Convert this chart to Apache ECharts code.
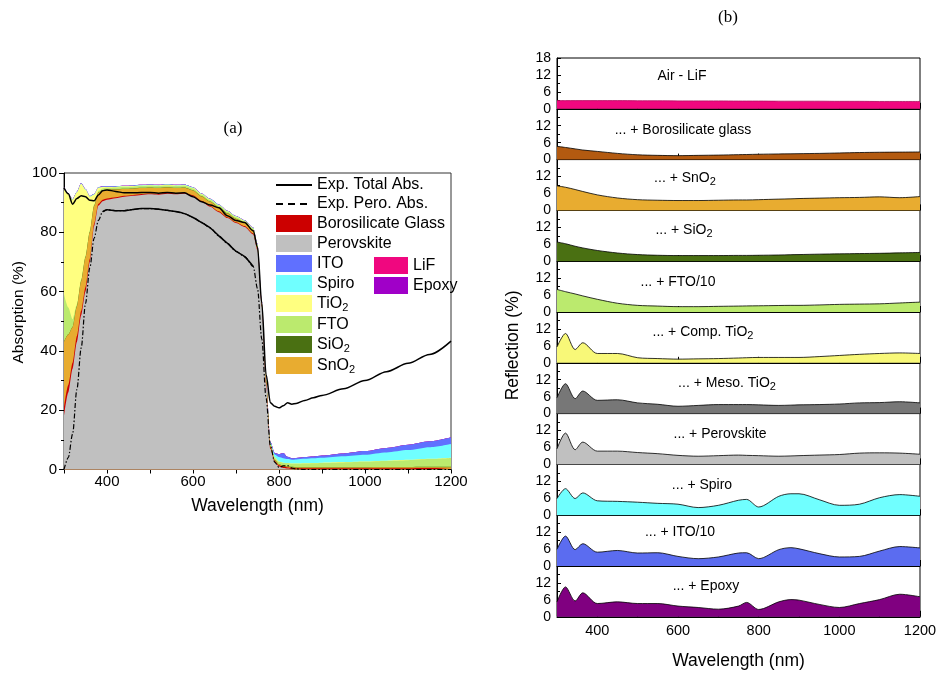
<!DOCTYPE html>
<html><head><meta charset="utf-8">
<script src="https://cdn.jsdelivr.net/npm/echarts@6/dist/echarts.min.js"></script>
<style>html,body{margin:0;padding:0;background:#fff}#c{width:936px;height:675px}</style>
</head><body><div id="c"></div>
<script>
// ---------- (a) Absorption data ----------
const wl = [300,310,320,330,340,350,360,370,380,390,400,
  420,440,460,480,500,520,540,560,580,600,620,640,660,680,700,720,740,
  750,760,770,780,790,800,810,820,830,840,
  860,880,900,
  950,1000,1050,1100,1150,1200];
const perovskite = [18,26,34,43,52,60,70,82,89,90.5,91,
  91.5,92,92.3,92.6,92.8,92.7,93,92.8,93,92.2,90.3,88.6,86.8,84.8,83.1,81.8,79.3,
  74,55,29,7,2.5,1,0.5,0.3,0.1,0,
  0,0,0,
  0,0,0,0,0,0];
const glass = [3,2.5,2,2,1.5,1.5,1,0.8,0.6,0.5,0.4,
  0.3,0.3,0.3,0.3,0.3,0.3,0.3,0.3,0.3,0.3,0.3,0.3,0.3,0.3,0.3,0.3,0.3,
  0.3,0.3,0.3,0.4,0.4,0.4,0.4,0.4,0.4,0.4,
  0.4,0.4,0.4,
  0.4,0.4,0.45,0.45,0.5,0.5];
const sno2 = [22,17,12,10,10,10,9,6,3.8,3.2,3,
  2.6,2.3,2.1,2,1.9,1.9,1.8,1.8,1.7,1.6,1.5,1.4,1.3,1.2,1.1,1,1,
  0.8,0.6,0.5,0.4,0.3,0.3,0.3,0.3,0.3,0.3,
  0.3,0.3,0.3,
  0.3,0.3,0.3,0.3,0.3,0.3];
const sio2 = [0.1,0.1,0.1,0.1,0.1,0.1,0.1,0.1,0.1,0.1,0.1,
  0.1,0.1,0.1,0.1,0.1,0.1,0.1,0.1,0.1,0.1,0.1,0.1,0.1,0.1,0.1,0.1,0.1,
  0.1,0.1,0.1,0.1,0.1,0.1,0.1,0.1,0.1,0.1,
  0.1,0.1,0.1,
  0.1,0.1,0.1,0.1,0.1,0.1];
const fto = [16,9,2.5,0.6,0.5,0.5,0.5,0.5,0.5,0.5,0.5,
  0.6,0.6,0.6,0.6,0.6,0.6,0.6,0.6,0.6,0.6,0.5,0.5,0.5,0.5,0.5,0.5,0.5,
  0.5,0.5,0.5,0.6,0.7,0.8,0.9,1.0,1.0,1.1,
  1.2,1.3,1.4,
  1.6,1.8,2.0,2.3,2.6,3.0];
const tio2 = [35.9,38.4,40.4,37.8,32.3,22.3,11.4,3.3,1.0,0.5,0.3,
  0.2,0.2,0.2,0.2,0.2,0.2,0.2,0.2,0.2,0.2,0.2,0.2,0.2,0.2,0.2,0.2,0.2,
  0.2,0.2,0.2,0.1,0.1,0.1,0.1,0.1,0.1,0.1,
  0.1,0.1,0.1,
  0.1,0.1,0.1,0.1,0.1,0.1];
const spiro = [0.1,0.1,0.1,0.1,0.1,0.1,0.1,0.1,0.1,0.1,0.1,
  0.1,0.1,0.1,0.1,0.1,0.1,0.1,0.1,0.1,0.1,0.1,0.1,0.1,0.1,0.1,0.1,0.1,
  0.1,0.2,0.3,0.5,1.0,1.5,1.5,1.3,1.3,1.4,
  1.5,1.6,1.7,
  2.0,2.3,2.8,3.3,3.9,4.6];
const ito = [0.1,0.1,0.1,0.1,0.1,0.1,0.1,0.1,0.1,0.1,0.1,
  0.1,0.1,0.1,0.1,0.1,0.1,0.1,0.1,0.1,0.1,0.1,0.1,0.1,0.1,0.1,0.1,0.1,
  0.1,0.1,0.2,0.3,0.5,1.0,1.8,0.8,0.5,0.5,
  0.6,0.6,0.7,
  0.9,1.2,1.5,1.8,2.0,2.3];
const lif = [0,0,0,0,0,0,0,0,0,0,0,
  0,0,0,0,0,0,0,0,0,0,0,0,0,0,0,0,0,
  0,0,0,0,0,0,0,0,0,0,
  0,0,0,
  0,0,0,0,0,0];
const epoxy = [0,0,0,0,0,0,0,0,0,0,0,
  0,0,0,0,0,0,0,0,0,0,0,0,0,0,0,0,0,
  0,0,0,0,0,0,0,0,0,0,
  0,0,0,
  0,0,0,0,0,0];
const totalAbs = [95,93,89.5,91.4,92.3,92,90.8,90.6,92.6,94,94.3,
  93.8,93.3,93.3,93.4,93.4,93.2,93.4,93.2,93.3,92,90.3,89.2,88.3,85.6,84,83.3,80.5,
  75,56,32,22.5,21.3,20.8,21.5,22.5,22,22.3,
  23.3,24.2,25,
  27.2,30,33,35.8,38.8,43.3];
const peroAbs = [0,4,12,27,41,56,68,78,84,87,87.6,
  87.3,87.3,87.7,88,88,87.8,87.4,87,86.3,85,83.3,81.5,78.8,76.3,73.6,71.8,68.5,
  61,44,24,8,2.5,0.7,1.2,1.3,0.5,0.2,
  0,0,0,
  0,0,0,0,0,0];
const xTicksA = [400,600,800,1000,1200];

// ---------- (b) Reflection data ----------
const pw = [300,321,345,364,400,450,500,550,600,650,700,750,770,800,850,880,900,950,1000,1050,1100,1150,1200];
const rLiF      = [2.9,2.9,2.9,2.9,2.9,2.9,2.85,2.85,2.8,2.8,2.8,2.75,2.75,2.75,2.7,2.7,2.7,2.7,2.65,2.65,2.6,2.6,2.6];
const rGlass    = [4.7,4.3,3.8,3.4,2.9,2.2,1.7,1.5,1.4,1.5,1.6,1.75,1.8,1.9,2.0,2.05,2.1,2.2,2.35,2.5,2.6,2.65,2.7];
const rSnO2     = [8.7,8.2,7.4,6.7,5.5,4.4,3.8,3.6,3.5,3.5,3.6,3.7,3.7,3.8,4.0,4.1,4.2,4.35,4.5,4.6,4.8,4.5,4.9];
const rSiO2     = [6.8,6.2,5.3,4.7,3.8,2.9,2.35,2.1,2.0,2.0,2.0,2.05,2.05,2.1,2.2,2.3,2.35,2.5,2.6,2.7,2.8,2.95,3.1];
const rFTO      = [8.0,7.2,6.4,5.7,4.5,3.1,2.35,2.1,1.9,1.9,2.0,2.1,2.15,2.2,2.3,2.35,2.35,2.5,2.7,2.8,2.9,3.2,3.5];
const rCompTiO2 = [5.6,10.4,4.7,7.1,3.3,3.3,1.8,1.5,1.3,1.4,1.5,1.7,1.8,1.9,1.9,1.9,1.9,2.2,2.6,3.0,3.3,3.5,3.3];
const rMesoTiO2 = [5.6,10.6,5.3,8.0,4.7,4.9,3.8,3.3,2.6,2.9,3.2,3.2,3.2,3.1,2.9,3.0,3.1,3.2,3.4,3.8,3.9,4.2,3.8];
const rPero     = [5.5,11.1,5.2,7.9,4.7,4.7,4.2,3.8,3.2,2.9,3.1,3.3,3.2,3.1,2.9,3.0,3.1,3.3,3.5,4.0,4.1,4.0,3.6];
const rSpiro    = [5.9,9.4,5.9,7.9,5.1,4.9,4.6,4.2,3.9,2.7,3.5,5.3,5.6,2.9,6.7,7.6,7.6,5.5,3.5,3.9,6.2,7.3,6.7];
const rITO      = [5.9,10.6,5.8,7.9,4.9,5.5,4.6,4.7,3.4,2.6,3.2,4.6,4.7,2.6,5.8,6.5,6.1,4.4,3.2,3.4,5.3,6.9,6.4];
const rEpoxy    = [5.3,10.6,5.6,8.5,4.7,5.3,4.7,4.7,3.8,3.3,2.7,3.8,5.1,2.6,5.3,6.1,5.9,4.4,3.3,4.7,6.1,8.0,7.1];
const panelLabels = ['Air - LiF','... + Borosilicate glass','... + SnO{sub|2}','... + SiO{sub|2}','... + FTO/10',
  '... + Comp. TiO{sub|2}','... + Meso. TiO{sub|2}','... + Perovskite','... + Spiro','... + ITO/10','... + Epoxy'];
const xTicksB = [400,600,800,1000,1200];
const xMinorB = [500,700,900,1100];

// ---------- build ----------
const FONT = '"Liberation Sans", Arial, sans-serif';
const pair = (xs, ys) => xs.map((x, i) => [x, ys[i]]);
const SUB = {sub: {fontSize: 11, padding: [8, 0, 0, 0]}};
const plainNum = v => String(v);

const layers = [
  ['Perovskite', perovskite, '#C0C0C0'],
  ['Borosilicate Glass', glass, '#CC0000'],
  ['SnO2', sno2, '#E8AC30'],
  ['SiO2', sio2, '#4A7012'],
  ['FTO', fto, '#BBEA6E'],
  ['TiO2', tio2, '#FFFF80'],
  ['Spiro', spiro, '#70FFFF'],
  ['ITO', ito, '#6070FF'],
  ['LiF', lif, '#F0077F'],
  ['Epoxy', epoxy, '#A000C8']
];
// cumulative tops of the stacked layers (bottom -> top)
let run = wl.map(() => 0);
const cumLayers = layers.map(([name, ys, color]) => {
  run = run.map((v, i) => v + ys[i]);
  return [name, run.slice(), color];
});

const grids = [{left: 64, top: 173, width: 387, height: 296.5, show: true, borderColor: '#333', borderWidth: 1, outerBoundsMode: 'none'}];
const xAxes = [{
  type: 'value', gridIndex: 0, min: 300, max: 1200, interval: 100,
  axisLine: {lineStyle: {color: '#000', width: 1}},
  axisTick: {length: 4, lineStyle: {color: '#000'}},
  axisLabel: {customValues: xTicksA, formatter: plainNum, fontSize: 15, color: '#000', margin: 5},
  splitLine: {show: false},
  name: 'Wavelength (nm)', nameLocation: 'middle', nameGap: 28,
  nameTextStyle: {fontSize: 17.5, color: '#000'}
}];
const yAxes = [{
  type: 'value', gridIndex: 0, min: 0, max: 100, interval: 20,
  axisLine: {show: true, lineStyle: {color: '#000', width: 1}},
  axisTick: {show: true, length: 5, lineStyle: {color: '#000'}},
  minorTick: {show: true, splitNumber: 2, length: 3, lineStyle: {color: '#000'}},
  axisLabel: {fontSize: 15, color: '#000', margin: 7},
  splitLine: {show: false},
  name: 'Absorption (%)', nameLocation: 'middle', nameGap: 37,
  nameTextStyle: {fontSize: 15.5, color: '#000', padding: [0, 0, 0, 18]}
}];
// draw top-most cumulative first so lower layers paint over it
const series = cumLayers.slice().reverse().map(([name, tops, color]) => ({
  type: 'line', name, xAxisIndex: 0, yAxisIndex: 0,
  data: pair(wl, tops), smooth: 0.25, smoothMonotone: 'x', symbol: 'none',
  lineStyle: {width: 0, color}, itemStyle: {color}, areaStyle: {color, opacity: 1, origin: 'start'}, z: 2
}));
series.push({
  type: 'line', name: 'Exp. Total Abs.', xAxisIndex: 0, yAxisIndex: 0,
  data: pair(wl, totalAbs), smooth: 0.3, smoothMonotone: 'x', symbol: 'none',
  lineStyle: {color: '#000', width: 1.5}, itemStyle: {color: '#000'}, z: 4
});
series.push({
  type: 'line', name: 'Exp. Pero. Abs.', xAxisIndex: 0, yAxisIndex: 0,
  data: pair(wl, peroAbs), smooth: 0.3, smoothMonotone: 'x', symbol: 'none',
  lineStyle: {color: '#000', width: 1.2, type: [5, 2, 1.5, 2]}, itemStyle: {color: '#000'}, z: 4
});
series.push({
  type: 'line', name: 'pero-plateau', xAxisIndex: 0, yAxisIndex: 0,
  data: pair(wl, peroAbs).filter(p => p[0] >= 390 && p[0] <= 740), smooth: 0.3, symbol: 'none',
  lineStyle: {color: '#000', width: 1.5}, itemStyle: {color: '#000'}, z: 4
});

// (b) panels
const panels = [
  [rLiF, '#F0077F'], [rGlass, '#B35A10'], [rSnO2, '#E8AC30'], [rSiO2, '#4A7012'], [rFTO, '#BBEA6E'],
  [rCompTiO2, '#F8F878'], [rMesoTiO2, '#777777'], [rPero, '#C0C0C0'], [rSpiro, '#70FFFF'],
  [rITO, '#5B6CF0'], [rEpoxy, '#800080']
];
const PTOP = 58, PH = 50.8, N = panels.length;
const labelPos = [[682,76],[683,130],[685,178],[684,230],[678,282],[703,332],[727,383],[720,434],[702,485],[680,532],[706,586]];
const graphics = [
  {type: 'text', x: 233, y: 129, style: {text: '(a)', fontSize: 17, fontFamily: '"Liberation Serif", "DejaVu Serif", serif', fill: '#000', align: 'center', verticalAlign: 'middle'}},
  {type: 'text', x: 728, y: 18, style: {text: '(b)', fontSize: 17, fontFamily: '"Liberation Serif", "DejaVu Serif", serif', fill: '#000', align: 'center', verticalAlign: 'middle'}}
];
panels.forEach(([vals, color], i) => {
  const last = i === N - 1;
  grids.push({left: 557, right: 16, top: PTOP + i * PH, height: PH, show: true, borderColor: '#000', borderWidth: 1, backgroundColor: '#fff', outerBoundsMode: 'none'});
  const gi = i + 1;
  xAxes.push({
    type: 'value', gridIndex: gi, min: 300, max: 1200, position: 'bottom',
    axisLine: {show: true, lineStyle: {color: '#000', width: 1}},
    axisTick: {show: true, inside: true, length: 6, customValues: xTicksB, lineStyle: {color: '#000'}},
    axisLabel: {show: last, customValues: xTicksB, formatter: plainNum, fontSize: 14.5, color: '#000', margin: 7},
    splitLine: {show: false},
    name: last ? 'Wavelength (nm)' : '', nameLocation: 'middle', nameGap: 35,
    nameTextStyle: {fontSize: 17.5, color: '#000'}
  });
  xAxes.push({
    type: 'value', gridIndex: gi, min: 300, max: 1200, position: 'bottom',
    axisLine: {show: false},
    axisTick: {show: true, inside: true, length: 3, customValues: xMinorB, lineStyle: {color: '#000'}},
    axisLabel: {show: false}, splitLine: {show: false}
  });
  yAxes.push({
    type: 'value', gridIndex: gi, min: 0, max: 18, interval: 6,
    axisLine: {show: true, lineStyle: {color: '#000', width: 1}},
    axisTick: {show: true, inside: true, length: 4, lineStyle: {color: '#000'}},
    minorTick: {show: true, splitNumber: 2, length: 3, lineStyle: {color: '#000'}},
    axisLabel: {fontSize: 14, color: '#000', margin: 6, showMaxLabel: i === 0},
    splitLine: {show: false},
    name: i === 5 ? 'Reflection (%)' : '', nameLocation: 'middle', nameGap: 35,
    nameTextStyle: {fontSize: 17.5, color: '#000', padding: [0, 16, 0, 0]}
  });
  series.push({
    type: 'line', name: 'panel' + i, xAxisIndex: 2 * i + 1, yAxisIndex: gi,
    data: pair(pw, vals), smooth: 0.3, symbol: 'none',
    lineStyle: {color: i === 0 ? '#B0105F' : '#000', width: 0.8},
    areaStyle: {color, opacity: 1}, itemStyle: {color}
  });
  graphics.push({type: 'text', x: labelPos[i][0], y: labelPos[i][1],
    style: {text: panelLabels[i], fontSize: 14, fontFamily: FONT, fill: '#000', align: 'center', verticalAlign: 'middle', rich: SUB}});
});

const legendFmt = n => n.replace(/O2$/, 'O{sub|2}');
const option = {
  backgroundColor: '#fff',
  animation: false,
  textStyle: {fontFamily: FONT, color: '#000'},
  grid: grids, xAxis: xAxes, yAxis: yAxes, series,
  legend: [{
    left: 270, top: 172, orient: 'vertical', itemWidth: 36, itemHeight: 17, itemGap: 3,
    selectedMode: false, formatter: legendFmt,
    textStyle: {fontSize: 16, color: '#000', rich: {sub: {fontSize: 11, padding: [8, 0, 0, 0]}}},
    data: [{name: 'Exp. Total Abs.', itemStyle: {opacity: 0}}, {name: 'Exp. Pero. Abs.', itemStyle: {opacity: 0}, lineStyle: {type: [7, 5]}},
      {name: 'Borosilicate Glass', icon: 'rect'}, {name: 'Perovskite', icon: 'rect'},
      {name: 'ITO', icon: 'rect'}, {name: 'Spiro', icon: 'rect'}, {name: 'TiO2', icon: 'rect'},
      {name: 'FTO', icon: 'rect'}, {name: 'SiO2', icon: 'rect'}, {name: 'SnO2', icon: 'rect'}]
  }, {
    left: 369, top: 252, orient: 'vertical', itemWidth: 34, itemHeight: 17, itemGap: 3,
    selectedMode: false,
    textStyle: {fontSize: 16, color: '#000'},
    data: [{name: 'LiF', icon: 'rect'}, {name: 'Epoxy', icon: 'rect'}]
  }],
  graphic: graphics
};
const chart = echarts.init(document.getElementById('c'), null, {renderer: 'canvas'});
chart.setOption(option);
</script>
</body></html>
